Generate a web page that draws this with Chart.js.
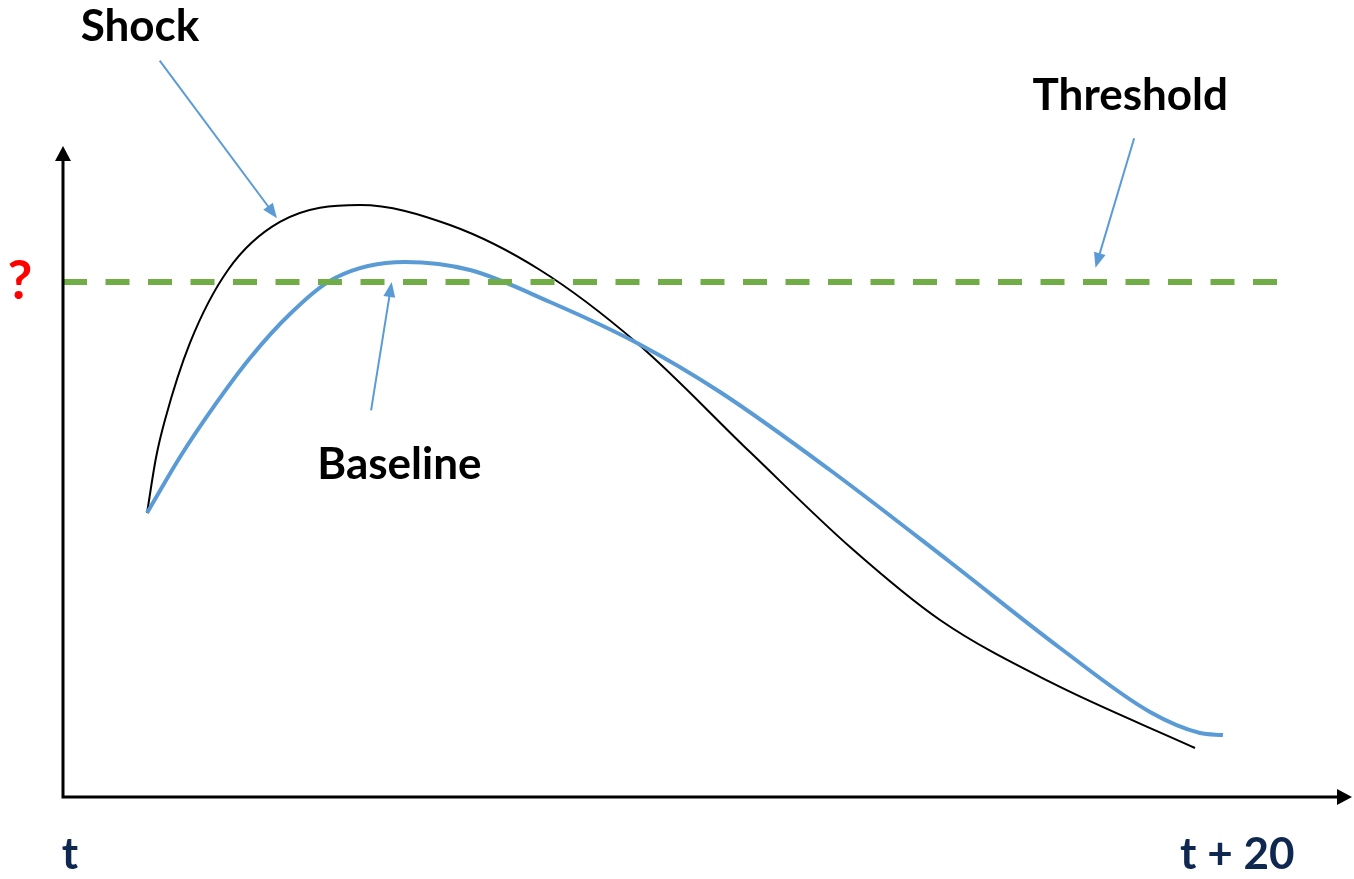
<!DOCTYPE html>
<html>
<head>
<meta charset="utf-8">
<title>Shock vs Baseline</title>
<script src="https://cdn.jsdelivr.net/npm/chart.js@4"></script>
<style>
  html, body { margin: 0; padding: 0; background: #ffffff; }
  canvas { display: block; }
</style>
</head>
<body>
<canvas id="shock-chart" width="1354" height="879"></canvas>
<script>
// Values (arbitrary units, x: 0..100, y: 0..100)
const shockX = [6.52, 7.21, 7.91, 9.85, 12.8, 16.83, 23.04, 30.02, 37.01, 44.53, 53.3, 61.06, 68.04, 76.57, 87.82];
const shockY = [43.63, 52.07, 57.91, 69.74, 80.95, 88.33, 90.94, 87.86, 80.95, 69.74, 52.99, 38.4, 27.19, 17.67, 7.53];

const baselineX = [6.52, 9.08, 11.79, 14.51, 17.61, 21.1, 26.53, 31.57, 37.78, 44.53, 50.97, 59.5, 68.81, 77.35, 84.33, 88.21, 89.99];
const baselineY = [43.63, 52.23, 60.22, 67.43, 74.19, 79.72, 82.18, 80.95, 76.04, 69.74, 62.21, 50.23, 36.1, 22.89, 13.06, 9.83, 9.52];

const thresholdX = [0, 94.3];
const thresholdY = [79.1, 79.1];

// Axis labels
const startLabel = "t";
const endLabel = "t + 20";
const endLabelX = 91.1;

// Callout labels: text, label position, arrow start, arrow tip
const calloutText = ["Shock", "Threshold", "Baseline"];
const calloutLabelX = [5.97, 82.8, 26.1];
const calloutLabelY = [118.3, 107.7, 51.0];
const calloutFromX = [7.5, 83.1, 23.9];
const calloutFromY = [113.1, 101.2, 59.4];
const calloutToX = [16.6, 80.1, 25.5];
const calloutToY = [88.9, 81.3, 79.1];

const LINE_BLUE = "#5b9bd5";
const LINE_GREEN = "#70ad47";
const LABEL_NAVY = "#0f2850";
const LABEL_FONT = "bold 44px Lato, 'Open Sans', sans-serif";
const QUESTION_FONT = "bold 54px Lato, 'Open Sans', sans-serif";

function toPoints(xs, ys) {
  return xs.map((x, i) => ({ x: x, y: ys[i] }));
}

function drawArrowHead(ctx, fromX, fromY, toX, toY, length, width, color) {
  const angle = Math.atan2(toY - fromY, toX - fromX);
  ctx.save();
  ctx.translate(toX, toY);
  ctx.rotate(angle);
  ctx.fillStyle = color;
  ctx.beginPath();
  ctx.moveTo(0, 0);
  ctx.lineTo(-length, -width / 2);
  ctx.lineTo(-length, width / 2);
  ctx.closePath();
  ctx.fill();
  ctx.restore();
}

const diagramPlugin = {
  id: "diagram",
  afterDraw(chart) {
    const ctx = chart.ctx;
    const xs = chart.scales.x;
    const ys = chart.scales.y;
    const area = chart.chartArea;
    const x0 = xs.getPixelForValue(0);
    const y0 = ys.getPixelForValue(0);

    // Axes with arrows
    ctx.save();
    ctx.strokeStyle = "#000000";
    ctx.lineWidth = 3;
    ctx.beginPath();
    ctx.moveTo(x0, area.top + 12);
    ctx.lineTo(x0, y0);
    ctx.lineTo(area.right - 12, y0);
    ctx.stroke();
    drawArrowHead(ctx, x0, y0, x0, area.top, 15, 16, "#000000");
    drawArrowHead(ctx, x0, y0, area.right, y0, 15, 16, "#000000");

    // Callout arrows
    ctx.strokeStyle = LINE_BLUE;
    ctx.lineWidth = 2;
    calloutText.forEach((text, i) => {
      const fx = xs.getPixelForValue(calloutFromX[i]);
      const fy = ys.getPixelForValue(calloutFromY[i]);
      const tx = xs.getPixelForValue(calloutToX[i]);
      const ty = ys.getPixelForValue(calloutToY[i]);
      const angle = Math.atan2(ty - fy, tx - fx);
      ctx.beginPath();
      ctx.moveTo(fx, fy);
      ctx.lineTo(tx - Math.cos(angle) * 10, ty - Math.sin(angle) * 10);
      ctx.stroke();
      drawArrowHead(ctx, fx, fy, tx, ty, 15, 12, LINE_BLUE);
    });

    // Callout labels
    ctx.font = LABEL_FONT;
    ctx.textAlign = "center";
    ctx.textBaseline = "middle";
    ctx.fillStyle = "#000000";
    calloutText.forEach((text, i) => {
      ctx.fillText(
        text,
        xs.getPixelForValue(calloutLabelX[i]),
        ys.getPixelForValue(calloutLabelY[i])
      );
    });

    // Time labels under the x axis
    ctx.fillStyle = LABEL_NAVY;
    ctx.fillText(startLabel, x0 + 7, y0 + 58);
    ctx.fillText(endLabel, xs.getPixelForValue(endLabelX), y0 + 58);

    // Question mark at the threshold level
    ctx.font = QUESTION_FONT;
    ctx.fillStyle = "#ff0000";
    ctx.fillText("?", x0 - 43, ys.getPixelForValue(thresholdY[0]));
    ctx.restore();
  },
};

const ctx = document.getElementById("shock-chart").getContext("2d");
new Chart(ctx, {
  type: "line",
  data: {
    datasets: [
      {
        label: "Threshold",
        data: toPoints(thresholdX, thresholdY),
        borderColor: LINE_GREEN,
        borderWidth: 6,
        borderDash: [24, 18.5],
        pointRadius: 0,
        tension: 0,
      },
      {
        label: "Baseline",
        data: toPoints(baselineX, baselineY),
        borderColor: LINE_BLUE,
        borderWidth: 4,
        pointRadius: 0,
        cubicInterpolationMode: "monotone",
      },
      {
        label: "Shock",
        data: toPoints(shockX, shockY),
        borderColor: "#000000",
        borderWidth: 2,
        pointRadius: 0,
        cubicInterpolationMode: "monotone",
      },
    ],
  },
  options: {
    responsive: false,
    animation: false,
    layout: {
      padding: { left: 63, right: 2, top: 146, bottom: 82 },
    },
    plugins: {
      legend: { display: false },
      tooltip: { enabled: false },
    },
    scales: {
      x: { type: "linear", min: 0, max: 100, display: false },
      y: { type: "linear", min: 0, max: 100, display: false },
    },
  },
  plugins: [diagramPlugin],
});
</script>
</body>
</html>
